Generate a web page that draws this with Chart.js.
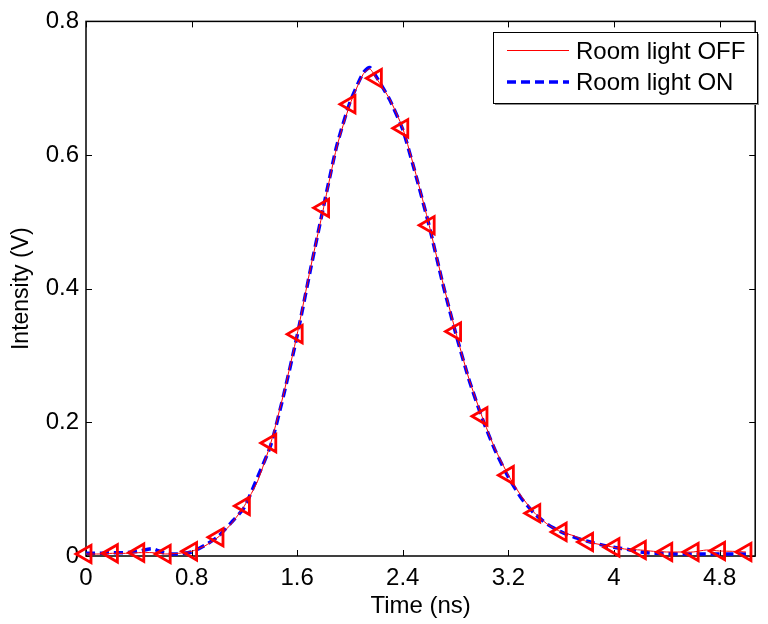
<!DOCTYPE html>
<html>
<head>
<meta charset="utf-8">
<script src="https://cdn.jsdelivr.net/npm/chart.js@4.4.1/dist/chart.umd.min.js"></script>
<style>
  html, body { margin: 0; padding: 0; background: #ffffff; }
  #c { display: block; }
</style>
</head>
<body>
<canvas id="c" width="768" height="624"></canvas>
<script>
// Pulse waveform samples (ns), extra sample near the peak
const timeNs = [
  0.0, 0.1, 0.2, 0.3, 0.4, 0.5, 0.6, 0.7, 0.8, 0.9,
  1.0, 1.1, 1.2, 1.3, 1.4, 1.5, 1.6, 1.7, 1.8, 1.9,
  2.0, 2.1, 2.15, 2.2, 2.3, 2.4, 2.5, 2.6, 2.7, 2.8, 2.9,
  3.0, 3.1, 3.2, 3.3, 3.4, 3.5, 3.6, 3.7, 3.8, 3.9,
  4.0, 4.1, 4.2, 4.3, 4.4, 4.5, 4.6, 4.7, 4.8, 4.9,
  5.0
];
const lightOff = [
  0.003, 0.003, 0.004, 0.004, 0.005, 0.005, 0.003, 0.004, 0.007, 0.015,
  0.028, 0.048, 0.075, 0.112, 0.169, 0.245, 0.332, 0.430, 0.521, 0.612,
  0.676, 0.721, 0.729, 0.715, 0.684, 0.640, 0.571, 0.495, 0.412, 0.336, 0.266,
  0.209, 0.160, 0.121, 0.089, 0.064, 0.047, 0.036, 0.030, 0.021, 0.017,
  0.013, 0.010, 0.009, 0.007, 0.006, 0.006, 0.006, 0.009, 0.0075, 0.007,
  0.006
];
const lightOn = [
  0.004, 0.004, 0.005, 0.005, 0.007, 0.011, 0.004, 0.003, 0.006, 0.016,
  0.029, 0.050, 0.073, 0.118, 0.166, 0.243, 0.330, 0.428, 0.523, 0.614,
  0.679, 0.723, 0.731, 0.717, 0.683, 0.638, 0.569, 0.494, 0.410, 0.334, 0.265,
  0.207, 0.158, 0.118, 0.086, 0.063, 0.047, 0.036, 0.028, 0.022, 0.017,
  0.013, 0.010, 0.006, 0.004, 0.004, 0.003, 0.003, 0.003, 0.003, 0.003,
  0.003
];
// Marker spacing along the OFF trace (ns)
const markerStep = 0.2;
const seriesNames = ['Room light OFF', 'Room light ON'];
const xTicks = [0, 0.8, 1.6, 2.4, 3.2, 4, 4.8];
const yTicks = [0, 0.2, 0.4, 0.6, 0.8];
const xTitle = 'Time (ns)';
const yTitle = 'Intensity (V)';

const FONT = '"Liberation Sans", Arial, Helvetica, sans-serif';
const FS = 24;

const toPoints = (ys) => timeNs.map((t, i) => ({ x: t, y: ys[i] }));
const isMarker = (t) => Math.abs(t / markerStep - Math.round(t / markerStep)) < 1e-6;

// Box frame with inward ticks on all four sides (drawn beneath the data)
const framePlugin = {
  id: 'frame',
  beforeDatasetsDraw(chart) {
    const { ctx, chartArea: a, scales } = chart;
    const L = 6;
    ctx.save();
    ctx.strokeStyle = '#000';
    ctx.lineWidth = 1;
    ctx.beginPath();
    xTicks.forEach(v => {
      const px = Math.round(scales.x.getPixelForValue(v)) + 0.5;
      ctx.moveTo(px, a.bottom); ctx.lineTo(px, a.bottom - L);
      ctx.moveTo(px, a.top); ctx.lineTo(px, a.top + L);
    });
    yTicks.forEach(v => {
      const py = Math.round(scales.y.getPixelForValue(v)) + 0.5;
      ctx.moveTo(a.left, py); ctx.lineTo(a.left + L, py);
      ctx.moveTo(a.right, py); ctx.lineTo(a.right - L, py);
    });
    ctx.stroke();
    ctx.lineWidth = 1.5;
    ctx.strokeRect(a.left, a.top, a.right - a.left, a.bottom - a.top);
    ctx.restore();
  }
};

// Legend box in the upper right corner
const legendPlugin = {
  id: 'boxLegend',
  afterDraw(chart) {
    const { ctx } = chart;
    const bx = 493, by = 32, bw = 264, bh = 71;
    ctx.save();
    ctx.fillStyle = '#8c8c8c';
    ctx.fillRect(bx + 2, by + 2, bw, bh);
    ctx.fillStyle = '#fff';
    ctx.fillRect(bx, by, bw, bh);
    ctx.strokeStyle = '#000';
    ctx.lineWidth = 1;
    ctx.strokeRect(bx + 0.5, by + 0.5, bw, bh);
    const rows = [by + 18.5, by + 50];
    chart.data.datasets.forEach((ds, i) => {
      const y = rows[i];
      ctx.strokeStyle = ds.borderColor;
      ctx.lineWidth = ds.borderWidth;
      ctx.setLineDash(ds.borderDash || []);
      ctx.beginPath();
      ctx.moveTo(507, y); ctx.lineTo(569, y);
      ctx.stroke();
      ctx.setLineDash([]);
      ctx.fillStyle = '#000';
      ctx.font = FS + 'px ' + FONT;
      ctx.textAlign = 'left';
      ctx.textBaseline = 'middle';
      ctx.fillText(seriesNames[i], 576, Math.round(y) + 1);
    });
    ctx.restore();
  }
};

new Chart(document.getElementById('c'), {
  type: 'line',
  data: {
    datasets: [
      {
        label: seriesNames[0],
        data: toPoints(lightOff),
        borderColor: '#ff0000',
        borderWidth: 1,
        tension: 0.2,
        pointStyle: 'triangle',
        rotation: -90,
        pointRadius: (c) => (isMarker(timeNs[c.dataIndex]) ? 10 : 0),
        pointHoverRadius: 0,
        pointBorderColor: '#ff0000',
        pointBackgroundColor: 'rgba(0,0,0,0)',
        pointBorderWidth: 2.8,
        clip: false,
        order: 0
      },
      {
        label: seriesNames[1],
        data: toPoints(lightOn),
        borderColor: '#0000ff',
        borderWidth: 3.5,
        borderDash: [9, 5],
        tension: 0.2,
        pointRadius: 0,
        clip: false,
        order: 1
      }
    ]
  },
  options: {
    responsive: false,
    animation: false,
    events: [],
    layout: { padding: { top: 20, right: 5, left: 0, bottom: 0 } },
    plugins: { legend: { display: false }, tooltip: { enabled: false } },
    scales: {
      x: {
        type: 'linear',
        min: 0,
        max: 5.07,
        afterBuildTicks: (s) => { s.ticks = xTicks.map(v => ({ value: v })); },
        afterFit: (s) => { s.height = 68; },
        grid: { display: false, drawTicks: false },
        border: { display: false },
        ticks: {
          color: '#000',
          padding: 8,
          font: { family: FONT, size: FS },
          callback: (v) => String(v)
        },
        title: {
          display: true,
          text: xTitle,
          color: '#000',
          font: { family: FONT, size: FS },
          padding: { top: 0, bottom: 3 }
        }
      },
      y: {
        type: 'linear',
        min: 0,
        max: 0.8,
        afterBuildTicks: (s) => { s.ticks = yTicks.map(v => ({ value: v })); },
        afterFit: (s) => { s.width = 86; },
        grid: { display: false, drawTicks: false },
        border: { display: false },
        ticks: {
          color: '#000',
          padding: 7,
          font: { family: FONT, size: FS },
          callback: (v) => String(v)
        },
        title: {
          display: true,
          text: yTitle,
          color: '#000',
          font: { family: FONT, size: FS - 1 },
          padding: { top: 8, bottom: 0 }
        }
      }
    }
  },
  plugins: [framePlugin, legendPlugin]
});
</script>
</body>
</html>
